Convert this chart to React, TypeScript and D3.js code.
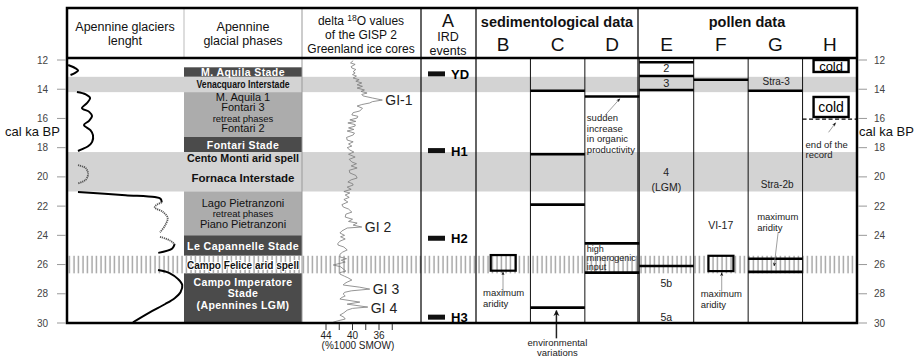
import React from 'react';
import * as d3 from 'd3';

// ---- data ----
const kaTicks = [12, 14, 16, 18, 20, 22, 24, 26, 28, 30];
const d18OTicks = [44, 42, 40, 38, 36, 34];
const d18OLabels = [44, 40, 36];
const greyBands: [number, number][] = [[13.15, 14.2], [18.3, 21.0]];
const aridSpell: [number, number] = [25.4, 26.6];

const phases = [
  { from: 12.5, to: 13.15, kind: 'stade', lines: ['M. Aquila Stade'] },
  { from: 13.15, to: 14.2, kind: 'interstade', lines: ['Venacquaro Interstade'] },
  { from: 14.2, to: 17.27, kind: 'retreat', lines: ['M. Aquila 1', 'Fontari 3', 'retreat phases', 'Fontari 2'], labelKa: 15.6 },
  { from: 17.27, to: 18.3, kind: 'stade', lines: ['Fontari Stade'] },
  { from: 18.3, to: 19.1, kind: 'interstade', lines: ['Cento Monti arid spell'] },
  { from: 19.1, to: 21.0, kind: 'interstade', lines: ['Fornaca Interstade'] },
  { from: 21.0, to: 24.0, kind: 'retreat', lines: ['Lago Pietranzoni', 'retreat phases', 'Piano Pietranzoni'] },
  { from: 24.0, to: 25.4, kind: 'stade', lines: ['Le Capannelle Stade'] },
  { from: 25.4, to: 26.6, kind: 'arid', lines: ['Campo Felice arid spell'] },
  { from: 26.6, to: 30, kind: 'stade', lines: ['Campo Imperatore', 'Stade', '(Apennines LGM)'], labelKa: 27.95 },
];
// printed widths of the condensed bold labels
const labelWidth: Record<string, number> = {
  'Venacquaro Interstade': 93,
  'Cento Monti arid spell': 112,
  'Fornaca Interstade': 103,
  'Campo Felice arid spell': 112,
  'Le Capannelle Stade': 112,
};

// glacier length (relative %, ka)
const glacierSolid: [number, number][][] = [
  [[12.34, 1], [12.55, 7], [12.72, 9.5], [12.88, 7], [13.03, 3]],
  [[14.19, 8.5], [14.35, 16], [14.6, 19.7], [14.95, 17], [15.29, 12.8], [15.55, 19], [15.84, 21.4], [16.15, 19],
   [16.45, 14.5], [16.8, 20], [17.14, 22.2], [17.6, 21.5], [17.9, 18], [18.1, 13], [18.23, 9.4]],
  [[21.04, 9.4], [21.25, 50], [21.38, 75], [21.5, 80], [21.75, 81]],
  [[24.6, 92], [24.9, 90], [25.2, 78]],
  [[26.38, 77.8], [26.6, 88], [27.0, 95], [27.4, 98.5], [27.9, 97], [28.3, 92], [28.7, 84], [29.3, 70], [29.95, 56.4]],
];
const glacierDotted: [number, number][][] = [
  [[19.2, 9.4], [19.4, 16], [19.8, 18], [20.2, 16], [20.45, 9.4]],
  [[21.75, 81], [21.95, 76], [22.1, 75], [22.4, 82], [22.8, 86], [23.3, 84], [23.8, 79.5]],
  [[24.1, 79.5], [24.35, 88], [24.6, 92]],
];

// GISP2 delta 18O (per mil, shown as positive), ka
const gisp2: [number, number][] = [
  [12.05, 39.9], [12.2, 40.3], [12.3, 39.6], [12.45, 40.2], [12.55, 40.1], [12.65, 39.5], [12.8, 39.9], [12.89, 39.6],
  [13.0, 40.0], [13.1, 39.4], [13.23, 39.9], [13.35, 39.0], [13.45, 39.5], [13.57, 38.6], [13.7, 39.3], [13.8, 38.5],
  [13.92, 39.3], [14.05, 38.2], [14.15, 38.7], [14.26, 37.8], [14.36, 38.6], [14.46, 38.4], [14.6, 37.0], [14.74, 35.5],
  [14.85, 37.0], [14.94, 37.4], [15.05, 38.6], [15.15, 39.3], [15.3, 38.5], [15.49, 38.9], [15.6, 39.9], [15.76, 40.1],
  [15.85, 39.2], [15.97, 39.3], [16.1, 40.4], [16.2, 39.5], [16.31, 40.7], [16.42, 39.6], [16.52, 39.6], [16.65, 40.6],
  [16.75, 39.8], [16.86, 40.8], [17.0, 39.7], [17.13, 39.9], [17.3, 40.9], [17.48, 40.8], [17.6, 39.9], [17.75, 40.6],
  [17.89, 40.1], [18.0, 40.8], [18.16, 40.4], [18.3, 39.8], [18.45, 40.6], [18.64, 39.6], [18.8, 40.5], [18.98, 40.1],
  [19.1, 39.4], [19.25, 40.2], [19.39, 39.3], [19.55, 40.5], [19.73, 40.4], [19.9, 39.5], [20.08, 39.3], [20.2, 40.2],
  [20.35, 40.7], [20.46, 40.0], [20.56, 39.9], [20.7, 40.8], [20.85, 40.2], [21.0, 41.3], [21.1, 40.4], [21.24, 41.1],
  [21.4, 40.5], [21.55, 41.3], [21.72, 40.7], [21.9, 41.6], [22.06, 41.4], [22.2, 40.6], [22.41, 40.1], [22.55, 41.0],
  [22.75, 41.1], [22.9, 40.0], [23.05, 40.6], [23.16, 39.3], [23.3, 39.9], [23.43, 38.6], [23.5, 40.8], [23.7, 41.6],
  [23.84, 41.9], [24.0, 41.2], [24.1, 41.8], [24.25, 41.1], [24.4, 41.9], [24.55, 42.2], [24.66, 42.2], [24.8, 41.3],
  [25.0, 40.8], [25.15, 41.5], [25.3, 41.9], [25.48, 41.9], [25.6, 40.9], [25.7, 41.7], [25.83, 41.1], [26.03, 42.9],
  [26.15, 41.8], [26.3, 41.4], [26.45, 41.0], [26.55, 41.9], [26.65, 41.9], [26.8, 41.2], [26.9, 40.7], [27.06, 40.1],
  [27.2, 40.8], [27.3, 41.2], [27.4, 41.4], [27.55, 38.9], [27.68, 37.4], [27.8, 40.2], [27.9, 41.2], [28.02, 41.4],
  [28.15, 41.1], [28.25, 41.6], [28.36, 41.9], [28.57, 38.9], [28.71, 40.8], [28.91, 37.7], [29.0, 40.0], [29.12, 40.8],
  [29.3, 41.3], [29.46, 41.9], [29.6, 41.3], [29.73, 41.1], [29.85, 42.2], [29.94, 42.9],
];
const gisLabels = [
  { name: 'GI-1', ka: 14.74, v: 35.5 },
  { name: 'GI 2', ka: 23.43, v: 38.6 },
  { name: 'GI 3', ka: 27.68, v: 37.4 },
  { name: 'GI 4', ka: 28.95, v: 37.7 },
];

const irdEvents = [
  { name: 'YD', ka: 12.95 },
  { name: 'H1', ka: 18.2 },
  { name: 'H2', ka: 24.2 },
  { name: 'H3', ka: 29.6 },
];

const letterCols = ['B', 'C', 'D', 'E', 'F', 'G', 'H'];
const boundaries: Record<string, number[]> = {
  C: [14.1, 18.45, 21.9, 28.95],
  D: [14.5, 24.55, 26.55],
  E: [12.15, 13.1, 14.05, 26.1],
  F: [13.35],
  G: [14.1, 25.6, 26.5],
};
const aridityBoxes = [
  { col: 'B', from: 25.35, to: 26.42 },
  { col: 'F', from: 25.4, to: 26.45 },
];
const coldBoxes = [
  { from: 12.0, to: 12.82, size: 13 },
  { from: 14.53, to: 15.9, size: 14 },
];
const endOfRecord = 16.05;

const notes = [
  { col: 'B', ka: 28.15, align: 'start', dx: 7, lines: ['maximum', 'aridity'], size: 9.5, lh: 11 },
  { col: 'D', ka: 16.17, align: 'start', dx: 2, lines: ['sudden', 'increase', 'in organic', 'productivity'], size: 9.5, lh: 10.7 },
  { col: 'D', ka: 25.14, align: 'start', dx: 2, lines: ['high', 'minerogenic', 'input'], size: 9, lh: 9 },
  { col: 'E', ka: 12.82, align: 'middle', dx: 27, lines: ['2'], size: 11, lh: 11 },
  { col: 'E', ka: 13.85, align: 'middle', dx: 27, lines: ['3'], size: 11, lh: 11 },
  { col: 'E', ka: 19.94, align: 'middle', dx: 27, lines: ['4', '(LGM)'], size: 10.5, lh: 15 },
  { col: 'E', ka: 27.54, align: 'middle', dx: 27, lines: ['5b'], size: 10.5, lh: 11 },
  { col: 'E', ka: 29.86, align: 'middle', dx: 27, lines: ['5a'], size: 10.5, lh: 11 },
  { col: 'F', ka: 23.57, align: 'middle', dx: 27, lines: ['VI-17'], size: 10.5, lh: 11 },
  { col: 'F', ka: 28.22, align: 'start', dx: 7, lines: ['maximum', 'aridity'], size: 9.5, lh: 11 },
  { col: 'G', ka: 13.71, align: 'middle', dx: 28, lines: ['Stra-3'], size: 10, lh: 11 },
  { col: 'G', ka: 20.76, align: 'middle', dx: 29, lines: ['Stra-2b'], size: 10, lh: 11 },
  { col: 'G', ka: 22.95, align: 'start', dx: 9, lines: ['maximum', 'aridity'], size: 9.5, lh: 11 },
  { col: 'H', ka: 18.02, align: 'start', dx: 3, lines: ['end of  the', 'record'], size: 9.5, lh: 10 },
  { col: 'C', ka: 31.57, align: 'middle', dx: 27, lines: ['environmental', 'variations'], size: 9.5, lh: 10.5 },
];
// arrows: [col, dx1, ka1, dx2, ka2, big]
const arrows: [string, number, number, number, number, boolean][] = [
  ['B', 27, 27.9, 27, 26.5, false],
  ['F', 28, 27.85, 28, 26.55, false],
  ['C', 26, 31.05, 26, 29.15, true],
  ['D', 20, 15.8, 35, 14.65, false],
  ['G', 30, 23.8, 26, 26.1, false],
  ['H', 26, 16.95, 33, 16.3, false],
];

const FONT = '"Liberation Sans", Arial, sans-serif';
const L = 67, R = 857, T = 8, HB = 58, B = 323;

export default function App() {
  const y = d3.scaleLinear().domain([12, 30]).range([60, B]);
  const xGl = d3.scaleLinear().domain([0, 100]).range([L, 184]);
  const xO = d3.scaleLinear().domain([44, 36]).range([326, 379]);
  const band = d3.scaleBand().domain(letterCols).range([476, R]);
  const bw = band.bandwidth();

  const glLine = d3.line<[number, number]>().x(d => xGl(d[1])).y(d => y(d[0])).curve(d3.curveCatmullRom);
  const oLine = d3.line<[number, number]>().x(d => xO(d[1])).y(d => y(d[0]));

  const phaseFill: Record<string, string> = { stade: '#4b4b4b', interstade: '#d3d3d3', retreat: '#acacac', arid: '#ffffff' };

  return (
    <svg width={915} height={357} style={{ position: 'absolute', left: 0, top: 0 }} fontFamily={FONT}>
      <defs>
        <pattern id="hatch" patternUnits="userSpaceOnUse" width={4.5} height={10}>
          <line x1={2} y1={0} x2={2} y2={10} stroke="#9a9a9a" strokeWidth={1.3} />
        </pattern>
        <marker id="ah" viewBox="0 0 10 10" refX={9} refY={5} markerWidth={5} markerHeight={5} orient="auto">
          <path d="M0,1 L10,5 L0,9 L3,5 Z" fill="#111" />
        </marker>
        <marker id="ahBig" viewBox="0 0 10 10" refX={9} refY={5} markerWidth={4} markerHeight={5} orient="auto">
          <path d="M0,0 L10,5 L0,10 L3,5 Z" fill="#111" />
        </marker>
      </defs>
      <rect x={0} y={0} width={915} height={357} fill="#fff" />

      {greyBands.map((b, i) => (
        <rect key={i} x={L} y={y(b[0])} width={R - L} height={y(b[1]) - y(b[0])} fill="#d3d3d3" />
      ))}

      {phases.map((p, i) => (
        <rect key={i} x={184} y={y(p.from)} width={118} height={y(p.to) - y(p.from)} fill={phaseFill[p.kind]} />
      ))}

      <rect x={L} y={y(aridSpell[0])} width={R - L} height={y(aridSpell[1]) - y(aridSpell[0])} fill="url(#hatch)" />

      {/* delta 18O */}
      <path d={oLine(gisp2) || ''} fill="none" stroke="#7a7a7a" strokeWidth={0.8} />
      {gisLabels.map(g => (
        <text key={g.name} x={xO(g.v) + 3} y={y(g.ka) + 5} fontSize={14} fill="#222">{g.name}</text>
      ))}

      {/* glacier length */}
      {glacierSolid.map((s, i) => (
        <path key={i} d={glLine(s) || ''} fill="none" stroke="#000" strokeWidth={2} />
      ))}
      {glacierDotted.map((s, i) => (
        <path key={i} d={glLine(s) || ''} fill="none" stroke="#555" strokeWidth={1.8} strokeDasharray="1.2,0.8" />
      ))}

      {/* column separators */}
      <line x1={184} x2={184} y1={T} y2={HB} stroke="#bbb" />
      <line x1={302} x2={302} y1={T} y2={B} stroke="#999" />
      {[421, 476, 638].map(x => <line key={x} x1={x} x2={x} y1={T} y2={B} stroke="#111" strokeWidth={1.3} />)}
      {letterCols.slice(1).map(c => (
        <line key={c} x1={band(c)} x2={band(c)} y1={HB} y2={B} stroke="#111" strokeWidth={1} />
      ))}

      {/* IRD */}
      {irdEvents.map(e => (
        <g key={e.name}>
          <rect x={428} y={y(e.ka) - 2.5} width={17} height={5} fill="#111" />
          <text x={451} y={y(e.ka) + 5} fontSize={13} fontWeight="bold">{e.name}</text>
        </g>
      ))}

      {/* boundaries */}
      {Object.entries(boundaries).map(([c, arr]) => arr.map(k => (
        <line key={c + k} x1={band(c)!} x2={band(c)! + bw} y1={y(k)} y2={y(k)} stroke="#000" strokeWidth={2.6} />
      )))}
      {aridityBoxes.map(a => (
        <rect key={a.col} x={band(a.col)! + bw / 2 - 12.5} y={y(a.from)} width={25} height={y(a.to) - y(a.from)}
          fill="none" stroke="#000" strokeWidth={2.2} />
      ))}
      {coldBoxes.map((c, i) => (
        <g key={i}>
          <rect x={band('H')! + 11} y={y(c.from)} width={35} height={y(c.to) - y(c.from)} fill="#fff" stroke="#000" strokeWidth={2.4} />
          <text x={band('H')! + 28.5} y={(y(c.from) + y(c.to)) / 2 + c.size * 0.36} fontSize={c.size} textAnchor="middle">cold</text>
        </g>
      ))}
      <line x1={band('H')!} x2={R} y1={y(endOfRecord)} y2={y(endOfRecord)} stroke="#000" strokeWidth={1.2} strokeDasharray="4,2.5" />

      {arrows.map(([c, dx1, k1, dx2, k2, big], i) => (
        <line key={i} x1={band(c)! + dx1} y1={y(k1)} x2={band(c)! + dx2} y2={y(k2)}
          stroke={big ? '#222' : '#888'} strokeWidth={big ? 1.5 : 0.8} markerEnd={big ? 'url(#ahBig)' : 'url(#ah)'} />
      ))}

      {notes.map((n, i) => (
        <text key={i} x={band(n.col)! + n.dx} y={y(n.ka)} fontSize={n.size} fill="#222" textAnchor={n.align as any}>
          {n.lines.map((l, j) => <tspan key={j} x={band(n.col)! + n.dx} dy={j === 0 ? 0 : n.lh}>{l}</tspan>)}
        </text>
      ))}

      {/* phase labels */}
      {phases.map((p, i) => {
        const c = p.labelKa ?? (p.from + p.to) / 2;
        const dark = p.kind === 'stade';
        const bold = p.kind === 'stade' || p.kind === 'interstade' || p.kind === 'arid';
        const lh = p.kind === 'retreat' ? 10.5 : 11.5;
        const y0 = y(c) - (p.lines.length - 1) * lh / 2 + 4;
        return (
          <text key={i} textAnchor="middle" fill={dark ? '#fff' : '#111'} fontWeight={bold ? 'bold' : 'normal'}
            fontSize={bold ? 10.5 : 11}
            letterSpacing={dark ? 0.4 : 0}
            stroke={p.kind === 'arid' ? '#fff' : 'none'} strokeWidth={2} paintOrder="stroke">
            {p.lines.map((l, j) => (
              <tspan key={j} x={243} y={y0 + j * lh} fontSize={l === 'retreat phases' ? 9.5 : undefined}
                textLength={labelWidth[l]} lengthAdjust={labelWidth[l] ? 'spacingAndGlyphs' : undefined}>{l}</tspan>
            ))}
          </text>
        );
      })}

      {/* header */}
      <line x1={L} x2={R} y1={HB} y2={HB} stroke="#000" strokeWidth={2.5} />
      <rect x={L} y={T} width={R - L} height={B - T} fill="none" stroke="#000" strokeWidth={2.5} />
      <g fontSize={12.5} textAnchor="middle" fill="#111">
        <text x={125} y={31}>Apennine glaciers</text>
        <text x={125} y={44.5}>lenght</text>
        <text x={243} y={31}>Apennine</text>
        <text x={243} y={44.5}>glacial phases</text>
        <text x={361} y={25} fontSize={12}>delta <tspan fontSize={8.5} dy={-4}>18</tspan><tspan dy={4}>O values</tspan></text>
        <text x={361} y={38.5} fontSize={12}>of the GISP 2</text>
        <text x={361} y={52.5} fontSize={12}>Greenland ice cores</text>
        <text x={448} y={27} fontSize={18}>A</text>
        <text x={448} y={41}>IRD</text>
        <text x={448} y={54.5}>events</text>
        <text x={557} y={27} fontSize={14.5} fontWeight="bold">sedimentological data</text>
        <text x={747} y={27} fontSize={14.5} fontWeight="bold">pollen data</text>
        {letterCols.map(c => (
          <text key={c} x={band(c)! + bw / 2} y={51} fontSize={19}>{c}</text>
        ))}
      </g>

      {/* ka axes */}
      {kaTicks.map(k => (
        <g key={k} fontSize={10} fill="#444">
          <line x1={57} x2={66} y1={y(k)} y2={y(k)} stroke="#999" />
          <text x={48} y={y(k) + 3.5} textAnchor="end">{k}</text>
          <line x1={858} x2={867} y1={y(k)} y2={y(k)} stroke="#999" />
          <text x={874} y={y(k) + 3.5}>{k}</text>
        </g>
      ))}
      <text x={5} y={136} fontSize={13} fill="#111">cal ka BP</text>
      <text x={859} y={136} fontSize={13} fill="#111">cal ka BP</text>

      {/* delta axis */}
      {d18OTicks.map(t => (
        <line key={t} x1={xO(t)} x2={xO(t)} y1={B + 1} y2={B + 7} stroke="#333" />
      ))}
      {d18OLabels.map(t => (
        <text key={t} x={xO(t)} y={339} fontSize={10} textAnchor="middle" fill="#222">{t}</text>
      ))}
      <text x={358} y={349} fontSize={10} textAnchor="middle" fill="#222">(%1000 SMOW)</text>
    </svg>
  );
}
